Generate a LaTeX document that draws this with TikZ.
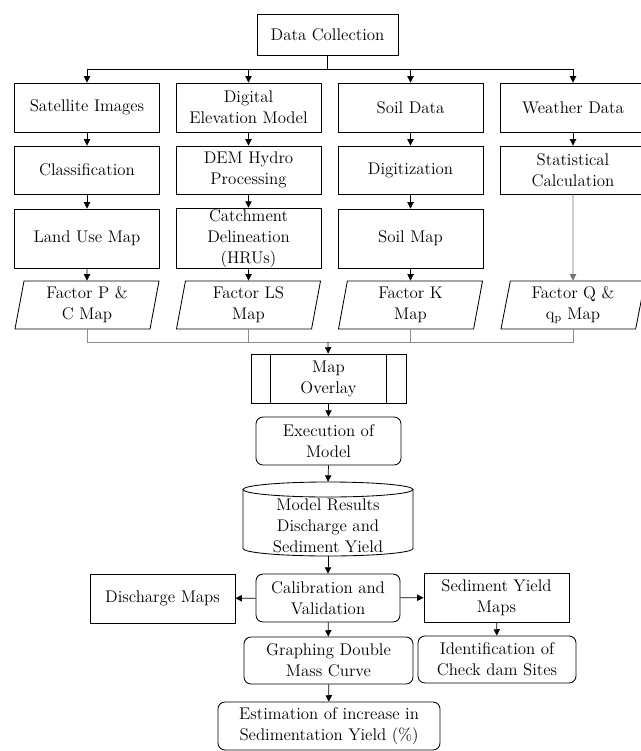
\documentclass[tikz,border=0pt]{standalone}
\usepackage{amsmath,amssymb}
\usepackage{tikz}
\usetikzlibrary{positioning,calc,arrows.meta,shapes.geometric}
\usepackage{xcolor}

\tikzset{
  box/.style={rectangle,draw,line width=0.6pt,minimum width=3.625cm,minimum height=1.225cm,inner sep=1pt,align=center,font=\fontsize{12}{14.9}\selectfont},
  rbox/.style={box,rounded corners=5pt},
  factor/.style={trapezium,trapezium left angle=77,trapezium right angle=103,trapezium stretches body,draw,line width=0.6pt,minimum width=3.6cm,minimum height=1.2cm,inner sep=1pt,align=center,font=\fontsize{12}{14.9}\selectfont},
  arr/.style={-{Triangle[length=4.5pt,width=4.5pt]},line width=0.5pt},
  busline/.style={line width=0.6pt,draw=black!45}
}

\begin{document}
\begin{tikzpicture}[x=0.025cm,y=-0.025cm]
\useasboundingbox (0,0) rectangle (640,751);
% top
\node[box,minimum width=3.525cm,minimum height=1.025cm] (dc) at (327.5,34.5) {Data Collection};
% first row
\node[box] (sat) at (87,107.5) {Satellite Images};
\node[box] (dem) at (248.5,107.5) {Digital\\Elevation Model};
\node[box] (soil) at (410.5,107.5) {Soil Data};
\node[box] (wea) at (573,107.5) {Weather Data};
% second row
\node[box,minimum height=1.2cm] (cls) at (87,170) {Classification};
\node[box,minimum height=1.2cm] (hyd) at (248.5,170) {DEM Hydro\\Processing};
\node[box,minimum height=1.2cm] (dig) at (410.5,170) {Digitization};
\node[box,minimum height=1.2cm] (stat) at (573,170) {Statistical\\Calculation};
% third row
\node[box,minimum height=1.475cm] (lum) at (87,238.5) {Land Use Map};
\node[box,minimum height=1.475cm] (cat) at (248.5,238.5) {Catchment\\Delineation\\(HRUs)};
\node[box,minimum height=1.475cm] (sm) at (410.5,238.5) {Soil Map};
% factor maps
\node[factor] (fpc) at (87,305) {Factor P \&\\C Map};
\node[factor] (fls) at (248.5,305) {Factor LS\\Map};
\node[factor] (fk) at (410.5,305) {Factor K\\Map};
\node[factor] (fq) at (573,305) {Factor Q \&\\q\textsubscript{p} Map};
\coordinate (bus) at (328,342);
% model chain
\node[box,minimum width=3.875cm] (ov) at (328.5,378.5) {Map\\Overlay};
\draw[line width=0.6pt] ([xshift=0.5cm]ov.north west) -- ([xshift=0.5cm]ov.south west);
\draw[line width=0.6pt] ([xshift=-0.5cm]ov.north east) -- ([xshift=-0.5cm]ov.south east);
\node[rbox,minimum height=1.2cm] (ex) at (328.5,441) {Execution of\\Model};
\node[minimum width=4.25cm,minimum height=1.85cm,inner sep=0pt] (res) at (328,519) {};
\draw[line width=0.6pt] (328,489.5) ellipse [x radius=2.125cm,y radius=0.1875cm];
\draw[line width=0.6pt] (243,489.5) -- (243,548.5) arc[start angle=180,end angle=360,x radius=2.125cm,y radius=0.1875cm] -- (413,489.5);
\node[align=center,font=\fontsize{12}{14.9}\selectfont,inner sep=0pt] (restxt) at (328,526) {Model Results\\Discharge and\\Sediment Yield};
\node[rbox,minimum width=3.6cm,minimum height=1.2cm] (cal) at (328,598) {Calibration and\\Validation};
\node[box] (dis) at (162.5,598.5) {Discharge Maps};
\node[box] (sym) at (496.5,597.5) {Sediment Yield\\Maps};
\node[rbox,minimum width=4.225cm,minimum height=1.175cm] (gdm) at (328.5,660.5) {Graphing Double\\Mass Curve};
\node[rbox,minimum width=3.95cm,minimum height=1.175cm] (idf) at (497,659.5) {Identification of\\Check dam Sites};
\node[rbox,minimum width=5.55cm,minimum height=1.2cm] (est) at (329,726) {Estimation of increase in\\Sedimentation Yield (\%)};
% connectors
\foreach \col in {sat,dem,soil,wea} {
  \draw[arr] (dc.south) -- ++(0,14) -| (\col.north);
}
\foreach \a/\b in {sat/cls,cls/lum,lum/fpc,dem/hyd,hyd/cat,cat/fls,soil/dig,dig/sm,sm/fk,wea/stat} {
  \draw[arr] (\a) -- (\b);
}
\draw[arr,draw=black!55] (stat.south) -- (fq.north);
\foreach \f in {fpc,fls,fk,fq} {
  \draw[busline] (\f.south) |- (bus);
}
\draw[arr] (bus) -- (ov);
\draw[arr] (ov) -- (ex);
\draw[arr] (ex.south) -- (res.north);
\draw[arr] (res.south) -- (cal.north);
\draw[arr] (cal) -- (dis);
\draw[arr] (cal) -- (sym);
\draw[arr] (cal) -- (gdm);
\draw[arr] (sym) -- (idf);
\draw[arr] (gdm) -- (est);
\end{tikzpicture}
\end{document}
